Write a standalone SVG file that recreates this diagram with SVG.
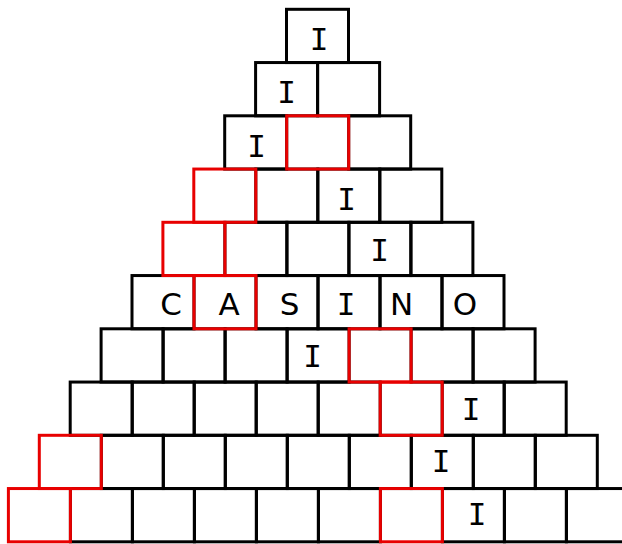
<svg xmlns="http://www.w3.org/2000/svg" width="622" height="544" viewBox="0 0 622 544">
<style>
rect{fill:none;stroke:#000;stroke-width:3}
rect.hl{stroke:#e80000}
text{font-size:31px;text-anchor:middle;fill:#000;font-family:"DejaVu Sans","Liberation Sans",sans-serif}
text.i{font-family:"DejaVu Sans Mono","Liberation Mono",monospace}
</style>
<rect x="0" y="0" width="622" height="544" style="fill:#fff;stroke:none"/>
<g id="connectors"/>
<g id="row1">
<g id="r1c1"><rect x="286.5" y="9.3" width="62" height="53.25"/><text class="i" x="319" y="50">I</text></g>
</g>
<g id="row2">
<g id="r2c1"><rect x="255.6" y="62.55" width="62" height="53.25"/><text class="i" x="286.7" y="103.3">I</text></g>
<g id="r2c2"><rect x="317.6" y="62.55" width="62" height="53.25"/></g>
</g>
<g id="row3">
<g id="r3c1"><rect x="224.7" y="115.8" width="62" height="53.25"/><text class="i" x="256.7" y="156.7">I</text></g>
<g id="r3c3"><rect x="348.7" y="115.8" width="62" height="53.25"/></g>
</g>
<g id="row4">
<g id="r4c2"><rect x="255.8" y="169.05" width="62" height="53.25"/></g>
<g id="r4c3"><rect x="317.8" y="169.05" width="62" height="53.25"/><text class="i" x="346.7" y="210">I</text></g>
<g id="r4c4"><rect x="379.8" y="169.05" width="62" height="53.25"/></g>
</g>
<g id="row5">
<g id="r5c2"><rect x="224.9" y="222.3" width="62" height="53.25"/></g>
<g id="r5c3"><rect x="286.9" y="222.3" width="62" height="53.25"/></g>
<g id="r5c4"><rect x="348.9" y="222.3" width="62" height="53.25"/><text class="i" x="379.5" y="261">I</text></g>
<g id="r5c5"><rect x="410.9" y="222.3" width="62" height="53.25"/></g>
</g>
<g id="row6">
<g id="r6c1"><rect x="132" y="275.55" width="62" height="53.25"/><text x="171" y="315">C</text></g>
<g id="r6c3"><rect x="256" y="275.55" width="62" height="53.25"/><text x="289.5" y="315">S</text></g>
<g id="r6c4"><rect x="318" y="275.55" width="62" height="53.25"/><text class="i" x="346" y="315">I</text></g>
<g id="r6c5"><rect x="380" y="275.55" width="62" height="53.25"/><text x="401.7" y="315">N</text></g>
<g id="r6c6"><rect x="442" y="275.55" width="62" height="53.25"/><text x="465" y="315">O</text></g>
</g>
<g id="row7">
<g id="r7c1"><rect x="101.1" y="328.8" width="62" height="53.25"/></g>
<g id="r7c2"><rect x="163.1" y="328.8" width="62" height="53.25"/></g>
<g id="r7c3"><rect x="225.1" y="328.8" width="62" height="53.25"/></g>
<g id="r7c4"><rect x="287.1" y="328.8" width="62" height="53.25"/><text class="i" x="312.7" y="367.3">I</text></g>
<g id="r7c6"><rect x="411.1" y="328.8" width="62" height="53.25"/></g>
<g id="r7c7"><rect x="473.1" y="328.8" width="62" height="53.25"/></g>
</g>
<g id="row8">
<g id="r8c1"><rect x="70.2" y="382.05" width="62" height="53.25"/></g>
<g id="r8c2"><rect x="132.2" y="382.05" width="62" height="53.25"/></g>
<g id="r8c3"><rect x="194.2" y="382.05" width="62" height="53.25"/></g>
<g id="r8c4"><rect x="256.2" y="382.05" width="62" height="53.25"/></g>
<g id="r8c5"><rect x="318.2" y="382.05" width="62" height="53.25"/></g>
<g id="r8c7"><rect x="442.2" y="382.05" width="62" height="53.25"/><text class="i" x="471" y="420">I</text></g>
<g id="r8c8"><rect x="504.2" y="382.05" width="62" height="53.25"/></g>
</g>
<g id="row9">
<g id="r9c2"><rect x="101.3" y="435.3" width="62" height="53.25"/></g>
<g id="r9c3"><rect x="163.3" y="435.3" width="62" height="53.25"/></g>
<g id="r9c4"><rect x="225.3" y="435.3" width="62" height="53.25"/></g>
<g id="r9c5"><rect x="287.3" y="435.3" width="62" height="53.25"/></g>
<g id="r9c6"><rect x="349.3" y="435.3" width="62" height="53.25"/></g>
<g id="r9c7"><rect x="411.3" y="435.3" width="62" height="53.25"/><text class="i" x="441" y="472.3">I</text></g>
<g id="r9c8"><rect x="473.3" y="435.3" width="62" height="53.25"/></g>
<g id="r9c9"><rect x="535.3" y="435.3" width="62" height="53.25"/></g>
</g>
<g id="row10">
<g id="r10c2"><rect x="70.4" y="488.55" width="62" height="53.25"/></g>
<g id="r10c3"><rect x="132.4" y="488.55" width="62" height="53.25"/></g>
<g id="r10c4"><rect x="194.4" y="488.55" width="62" height="53.25"/></g>
<g id="r10c5"><rect x="256.4" y="488.55" width="62" height="53.25"/></g>
<g id="r10c6"><rect x="318.4" y="488.55" width="62" height="53.25"/></g>
<g id="r10c8"><rect x="442.4" y="488.55" width="62" height="53.25"/><text class="i" x="477" y="525">I</text></g>
<g id="r10c9"><rect x="504.4" y="488.55" width="62" height="53.25"/></g>
<g id="r10c10"><rect x="566.4" y="488.55" width="62" height="53.25"/></g>
</g>
<g id="highlighted">
<g id="r3c2"><rect class="hl" x="286.7" y="115.8" width="62" height="53.25"/></g>
<g id="r4c1"><rect class="hl" x="193.8" y="169.05" width="62" height="53.25"/></g>
<g id="r5c1"><rect class="hl" x="162.9" y="222.3" width="62" height="53.25"/></g>
<g id="r6c2"><rect class="hl" x="194" y="275.55" width="62" height="53.25"/><text x="229" y="315">A</text></g>
<g id="r7c5"><rect class="hl" x="349.1" y="328.8" width="62" height="53.25"/></g>
<g id="r8c6"><rect class="hl" x="380.2" y="382.05" width="62" height="53.25"/></g>
<g id="r9c1"><rect class="hl" x="39.3" y="435.3" width="62" height="53.25"/></g>
<g id="r10c1"><rect class="hl" x="8.4" y="488.55" width="62" height="53.25"/></g>
<g id="r10c7"><rect class="hl" x="380.4" y="488.55" width="62" height="53.25"/></g>
</g>
</svg>
